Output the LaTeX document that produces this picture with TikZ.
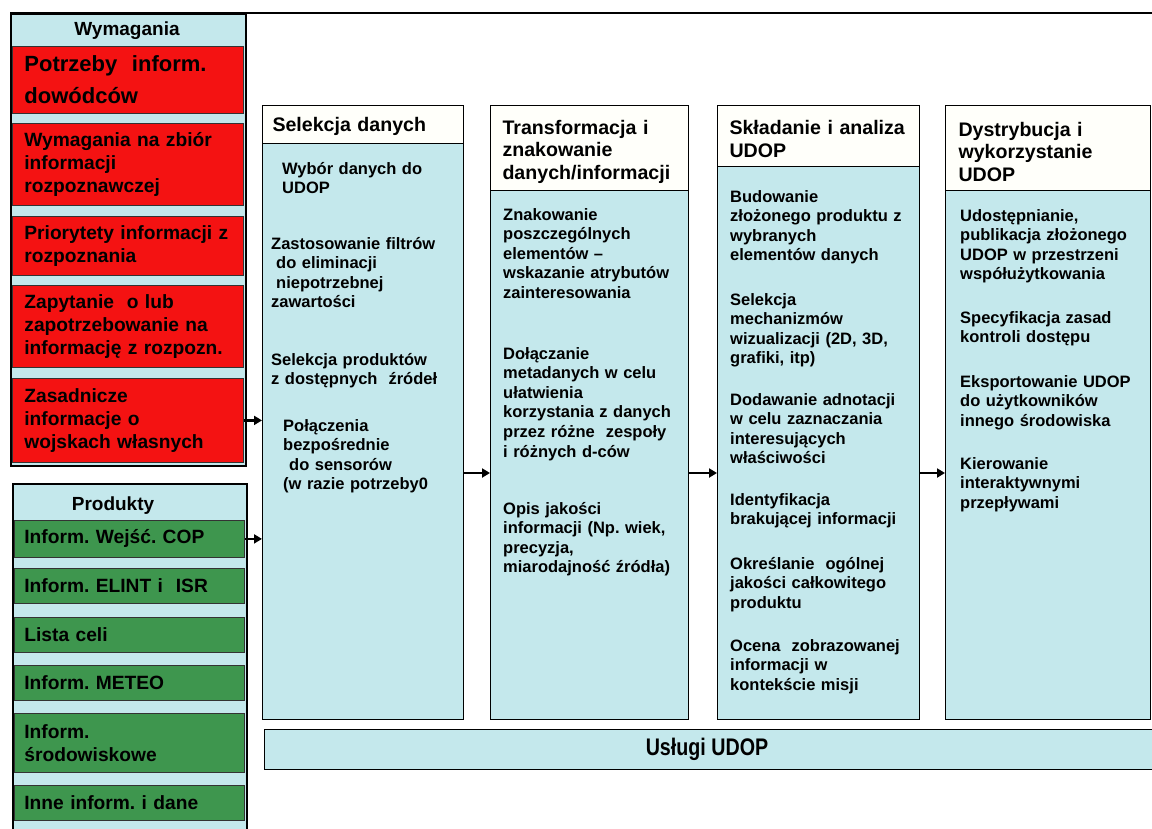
\documentclass[tikz,border=0pt]{standalone}
\usepackage{fontspec}
\setmainfont{Liberation Sans}
\usetikzlibrary{arrows.meta}
\frenchspacing
\definecolor{lb}{RGB}{196,232,236}
\definecolor{rd}{RGB}{244,18,18}
\definecolor{gr}{RGB}{62,150,78}
\definecolor{hd}{RGB}{255,255,250}
\newcommand\fitem{\fontsize{16.5}{19.6}\selectfont\bfseries}
\newcommand\fred{\fontsize{19.2}{23}\selectfont\bfseries}
\newcommand\fbig{\fontsize{22}{32}\selectfont\bfseries}
\newcommand\fhead{\fontsize{19.6}{22.5}\selectfont\bfseries}
\newcommand\fpanel{\fontsize{19}{22}\selectfont\bfseries}
\newcommand\hstrut[1]{\rule{0pt}{#1}}
\begin{document}
\begin{tikzpicture}[x=1pt,y=-1pt,
  panel/.style={draw=black, line width=1.6pt, fill=lb},
  redbox/.style={draw=black!80, line width=0.8pt, fill=rd, anchor=north west,
    inner xsep=12pt, inner ysep=0pt, text width=207pt, align=left, font=\fred},
  greenbox/.style={draw=black!80, line width=0.8pt, fill=gr, anchor=north west,
    inner xsep=10pt, inner ysep=0pt, text width=210pt, align=left, font=\fred},
  colbody/.style={draw=black, line width=1pt, fill=lb, anchor=north west, inner sep=0pt},
  colhead/.style={draw=black, line width=1pt, fill=hd, anchor=north west,
    inner ysep=0pt, align=left, font=\fhead},
  item/.style={anchor=base west, inner sep=0pt, align=left, text width=200pt, font=\fitem},
  flow/.style={line width=2.6pt, -{Triangle[length=8pt,width=9pt]}},
  ptitle/.style={inner sep=0pt, font=\fpanel}
]
\clip (0,0) rectangle (1152,828);
\fill[white] (0,0) rectangle (1152,828);

% top rule
\draw[line width=2pt] (10,13) -- (1152,13);

% ---- Wymagania panel
\node[panel, anchor=north west, minimum width=235, minimum height=452, inner sep=0pt] (wym) at (10,13) {};
\node[ptitle] (wymt) at (127,31) {Wymagania};
\node[redbox, minimum height=67, font=\fbig] (r1) at (12,46) {Potrzeby \ inform.\\dowódców};
\node[redbox, minimum height=82] (r2) at (12,123) {Wymagania na zbiór\\informacji\\rozpoznawczej};
\node[redbox, minimum height=59] (r3) at (12,216) {Priorytety informacji z\\rozpoznania};
\node[redbox, minimum height=82] (r4) at (12,285) {Zapytanie \ o lub\\zapotrzebowanie na\\informację z rozpozn.};
\node[redbox, minimum height=84] (r5) at (12,378) {Zasadnicze\\informacje o\\wojskach własnych};

% ---- Produkty panel
\node[panel, anchor=north west, minimum width=234, minimum height=360, inner sep=0pt] (prod) at (12,483) {};
\node[ptitle] (prodt) at (113,506) {Produkty};
\node[greenbox, minimum height=37] (g1) at (14,520) {Inform. Wejść. COP};
\node[greenbox, minimum height=35] (g2) at (14,568) {Inform. ELINT i \ ISR};
\node[greenbox, minimum height=35] (g3) at (14,617) {Lista celi};
\node[greenbox, minimum height=35] (g4) at (14,665) {Inform. METEO};
\node[greenbox, minimum height=59] (g5) at (14,713) {Inform.\\środowiskowe};
\node[greenbox, minimum height=35] (g6) at (14,785) {Inne inform. i dane};

% ---- column 1
\node[colbody, minimum width=201, minimum height=576] (c1b) at (262,143) {};
\node[colhead, minimum width=201, minimum height=38, inner xsep=10pt, text width=181pt] (c1h) at (262,105) {\hstrut{18pt}Selekcja danych};
\node[item] (i11) at (282,174) {Wybór danych do\\UDOP};
\node[item] (i12) at (271,249) {Zastosowanie filtrów\\\hspace*{5pt}do eliminacji\\\hspace*{5pt}niepotrzebnej\\zawartości};
\node[item] (i13) at (271,365) {Selekcja produktów\\z dostępnych \ źródeł};
\node[item] (i14) at (283,431) {Połączenia\\bezpośrednie\\\hspace*{6pt}do sensorów\\(w razie potrzeby0};

% ---- column 2
\node[colbody, minimum width=198, minimum height=529] (c2b) at (490,190) {};
\node[colhead, minimum width=198, minimum height=85, inner xsep=12pt, text width=174pt] (c2h) at (490,105) {\hstrut{22pt}Transformacja i\\znakowanie\\danych/informacji};
\node[item] (i21) at (503,220) {Znakowanie\\poszczególnych\\elementów –\\wskazanie atrybutów\\zainteresowania};
\node[item] (i22) at (503,359) {Dołączanie\\metadanych w celu\\ułatwienia\\korzystania z danych\\przez różne \ zespoły\\i różnych d-ców};
\node[item] (i23) at (503,514) {Opis jakości\\informacji (Np. wiek,\\precyzja,\\miarodajność źródła)};

% ---- column 3
\node[colbody, minimum width=202, minimum height=553] (c3b) at (717,166) {};
\node[colhead, minimum width=202, minimum height=61, inner xsep=12pt, text width=178pt] (c3h) at (717,105) {\hstrut{20pt}Składanie i analiza\\UDOP};
\node[item] (i31) at (730,202) {Budowanie\\złożonego produktu z\\wybranych\\elementów danych};
\node[item] (i32) at (730,305) {Selekcja\\mechanizmów\\wizualizacji (2D, 3D,\\grafiki, itp)};
\node[item] (i33) at (730,405) {Dodawanie adnotacji\\w celu zaznaczania\\interesujących\\właściwości};
\node[item] (i34) at (730,505) {Identyfikacja\\brakującej informacji};
\node[item] (i35) at (730,569) {Określanie \ ogólnej\\jakości całkowitego\\produktu};
\node[item] (i36) at (730,651) {Ocena \ zobrazowanej\\informacji w\\kontekście misji};

% ---- column 4
\node[colbody, minimum width=205, minimum height=529] (c4b) at (945,190) {};
\node[colhead, minimum width=205, minimum height=85, inner xsep=13pt, text width=179pt] (c4h) at (945,105) {\hstrut{22pt}Dystrybucja i\\wykorzystanie\\UDOP};
\node[item] (i41) at (960,221) {Udostępnianie,\\publikacja złożonego\\UDOP w przestrzeni\\współużytkowania};
\node[item] (i42) at (960,323) {Specyfikacja zasad\\kontroli dostępu};
\node[item] (i43) at (960,387) {Eksportowanie UDOP\\do użytkowników\\innego środowiska};
\node[item] (i44) at (960,469) {Kierowanie\\interaktywnymi\\przepływami};

% ---- services bar
\node[colbody, minimum width=900, minimum height=40] (bar) at (264,729) {};
\node[inner sep=0pt, font=\fontsize{24}{26}\selectfont\bfseries] (bart) at (707,749) {\scalebox{0.82}[1]{Usługi UDOP}};

% ---- flows
\coordinate (lvl) at (0,473);
\draw[flow] (r5.east) -- (c1b.west |- r5.east);
\draw[flow] (g1.east) -- (c1b.west |- g1.east);
\draw[flow] (c1b.east |- lvl) -- (c2b.west |- lvl);
\draw[flow] (c2b.east |- lvl) -- (c3b.west |- lvl);
\draw[flow] (c3b.east |- lvl) -- (c4b.west |- lvl);
\end{tikzpicture}
\end{document}
